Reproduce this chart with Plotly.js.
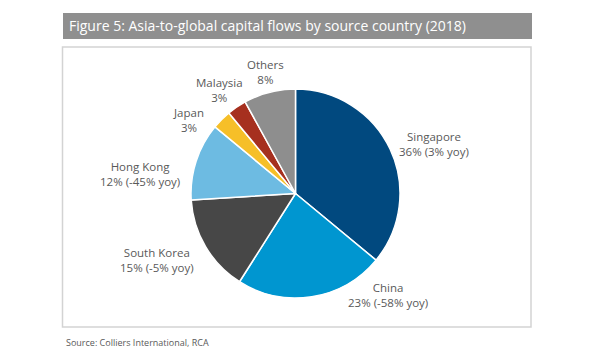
<!DOCTYPE html>
<html>
<head>
<meta charset="utf-8">
<script src="https://cdn.plot.ly/plotly-3.0.1.min.js"></script>
<style>html,body{margin:0;padding:0;background:#fff;}#chart{width:600px;height:360px;}</style>
</head>
<body>
<div id="chart"></div>
<script>
// Data
const countries = ["Singapore", "China", "South Korea", "Hong Kong", "Japan", "Malaysia", "Others"];
const shares = [36, 23, 15, 12, 3, 3, 8];
const yoyText = ["(3% yoy)", "(-58% yoy)", "(-5% yoy)", "(-45% yoy)", "", "", ""];
const sliceColors = ["#01497F", "#0096D0", "#474747", "#6DBBE2", "#F6BF28", "#A6301F", "#8E8E8E"];

// Label placement (layout, in pixels of the 600x360 page)
const labelPos = [[434, 144], [388, 295], [157, 260], [140, 174], [188, 120], [220, 89.5], [265, 72]];

const W = 600, H = 360;
const px = x => x / W;
const py = y => 1 - y / H;

const annotations = countries.map((c, i) => ({
  xref: "paper", yref: "paper",
  x: px(labelPos[i][0]), y: py(labelPos[i][1]),
  xanchor: "center", yanchor: "middle",
  text: c + "<br>" + shares[i] + "%" + (yoyText[i] ? " " + yoyText[i] : ""),
  showarrow: false,
  align: "center",
  font: {family: "Open Sans, sans-serif", size: 11.5, color: "#595959"}
}));

annotations.push({
  xref: "paper", yref: "paper",
  x: px(64), y: py(342), xanchor: "left", yanchor: "middle",
  text: "Source: Colliers International, RCA",
  showarrow: false,
  font: {family: "Open Sans, sans-serif", size: 9, color: "#595959"}
});

const trace = {
  type: "pie",
  labels: countries,
  values: shares,
  sort: false,
  direction: "clockwise",
  rotation: 0,
  marker: {colors: sliceColors, line: {color: "#ffffff", width: 1.5}},
  textinfo: "none",
  hoverinfo: "label+percent",
  showlegend: false,
  domain: {x: [px(191), px(400)], y: [py(298), py(89)]}
};

const layout = {
  width: W, height: H,
  margin: {l: 0, r: 0, t: 0, b: 0},
  paper_bgcolor: "#ffffff",
  showlegend: false,
  title: {
    text: "Figure 5: Asia-to-global capital flows by source country (2018)",
    x: px(69), xanchor: "left", xref: "paper",
    y: py(26.5), yanchor: "middle", yref: "paper",
    font: {family: "Open Sans, sans-serif", size: 14, color: "#ffffff"}
  },
  shapes: [
    {type: "rect", xref: "paper", yref: "paper", x0: px(63), x1: px(532), y0: py(39), y1: py(13),
     fillcolor: "#8F8F8F", line: {width: 0}, layer: "below"},
    {type: "rect", xref: "paper", yref: "paper", x0: px(62.5), x1: px(531), y0: py(327), y1: py(47),
     fillcolor: "rgba(0,0,0,0)", line: {color: "#D3D3D3", width: 1.5}, layer: "below"}
  ],
  annotations: annotations
};

Plotly.newPlot("chart", [trace], layout, {displayModeBar: false, staticPlot: true});
</script>
</body>
</html>
